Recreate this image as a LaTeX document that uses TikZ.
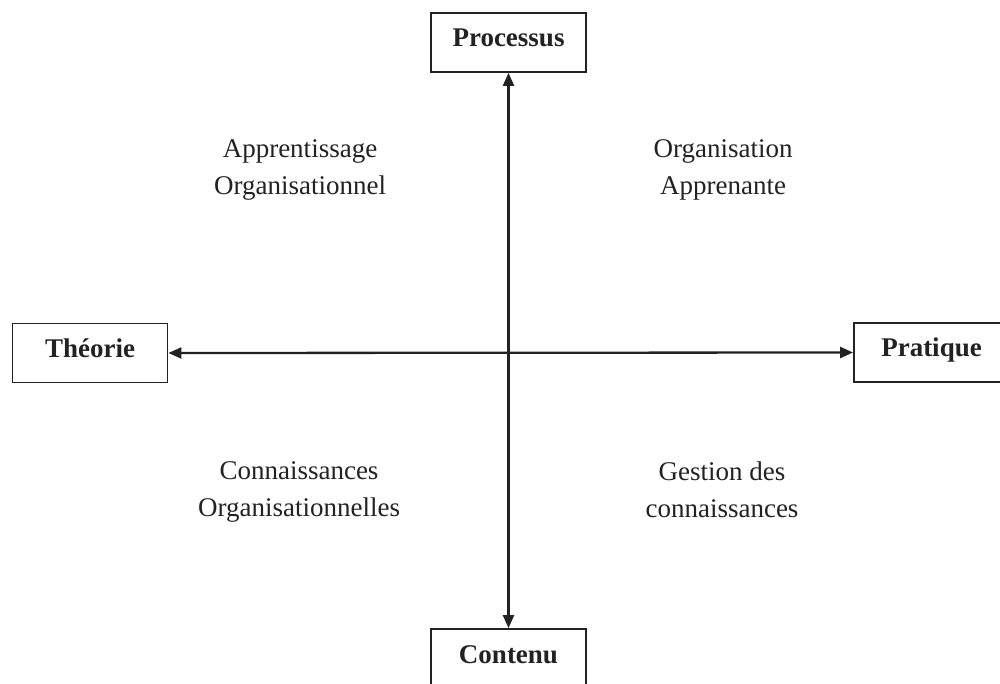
\documentclass[tikz,border=0pt]{standalone}
\usepackage{fontspec}
\setmainfont{Liberation Serif}
\usetikzlibrary{arrows.meta}
\definecolor{ink}{HTML}{222222}
\begin{document}
\begin{tikzpicture}[x=1pt,y=-1pt,
  boxnode/.style={draw=ink,line width=1.8pt,minimum width=155pt,minimum height=59pt,inner sep=0pt,
    text height=17.5pt,text depth=9.5pt,
    font=\fontsize{27}{36}\selectfont\bfseries,text=ink},
  quad/.style={align=center,inner sep=0pt,font=\fontsize{27}{37}\selectfont,text=ink},
  axis/.style={draw=ink,line width=2.3pt,{Triangle[length=13pt,width=11pt]}-{Triangle[length=13pt,width=11pt]}}]
\useasboundingbox (0,0) rectangle (1000,684);
\node[boxnode] (proc) at (508.5,42.5) {Processus};
\node[boxnode] (theo) at (90,353) {Théorie};
\node[boxnode] (prat) at (931.5,352.5) {Pratique};
\node[boxnode,minimum height=60pt] (cont) at (508.5,659) {Contenu};
\draw[axis] (proc.south) -- (cont.north);
\draw[axis] (theo.east) -- (prat.west);
\node[quad] (ao) at (300,170) {Apprentissage\\Organisationnel};
\node[quad] (oa) at (723,170) {Organisation\\Apprenante};
\node[quad] (co) at (299,492) {Connaissances\\Organisationnelles};
\node[quad] (gc) at (722,490) {Gestion des\\connaissances};
\end{tikzpicture}
\end{document}
